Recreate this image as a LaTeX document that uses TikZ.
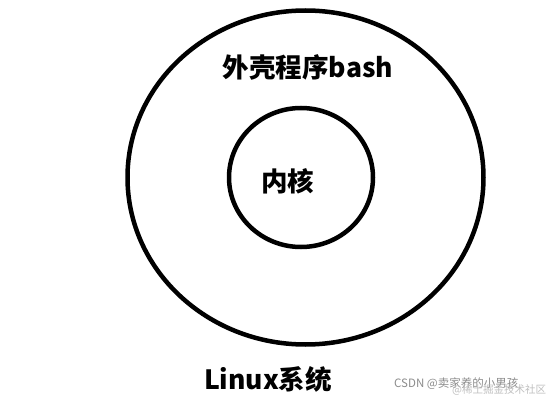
\documentclass[tikz,border=0pt]{standalone}
\usepackage{fontspec}
\usepackage{xcolor}
\usepackage{tikz}
\usetikzlibrary{shapes}
\newfontfamily\cjk{Noto Sans CJK SC}
\tikzset{ring/.style={draw,ellipse,line width=4.5pt,inner sep=0pt},
  lbl/.style={font=\cjk\bfseries\fontsize{26.5}{27}\selectfont,inner sep=0pt},
  wmark/.style={font=\cjk\fontsize{11.5}{12}\selectfont,inner sep=0pt,anchor=west}}

\begin{document}
\begin{tikzpicture}[x=1pt,y=-1pt]
    \useasboundingbox[fill=white] (0,0) rectangle (547,401);
    \draw[] (305.5,177.5) node[ring,minimum width=356pt,minimum height=334pt] (Shell) {};
    \draw[] (301,177.5) node[ring,minimum width=144pt,minimum height=139pt] (Kernel) {};
    \draw[] (308,67) node[lbl] (ShellTxt) {外壳程序bash};
    \draw[] (287.5,181) node[lbl] (KernelTxt) {内核};
    \draw[] (268,379) node[lbl] (LinuxTxt) {Linux系统};
    \draw[] (394,384) node[wmark,text=black!45] (Mark) {CSDN @卖家养的小男孩};
    \draw[] (452,390) node[wmark,text=black!25,font=\cjk\fontsize{10.5}{11}\selectfont] (Mark2) {@稀土掘金技术社区};
  \end{tikzpicture}
\end{document}
